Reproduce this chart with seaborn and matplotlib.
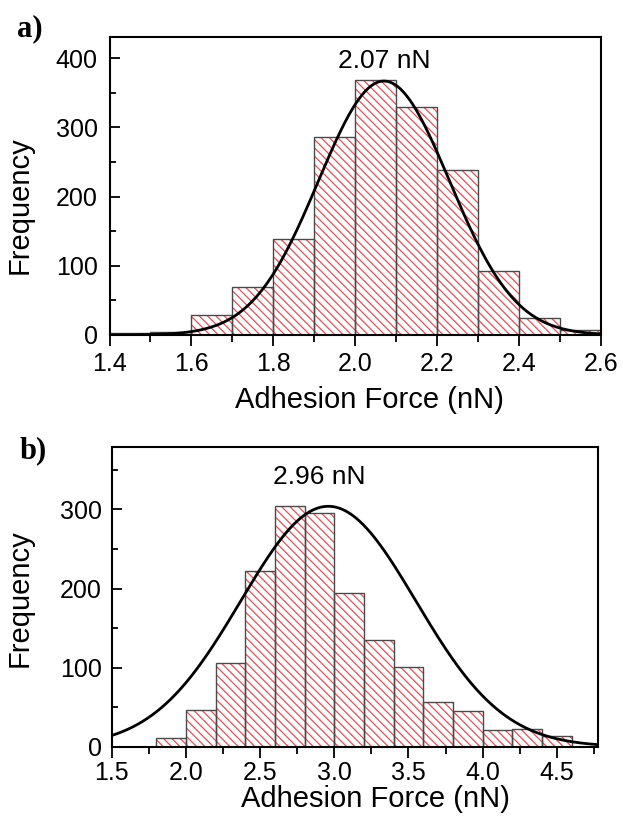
import numpy as np
import pandas as pd
import matplotlib
matplotlib.use("Agg")
import matplotlib.pyplot as plt
from matplotlib.ticker import MultipleLocator
import seaborn as sns

# Histogram bin edges (nN) and counts per bin
edges_a = [1.4, 1.5, 1.6, 1.7, 1.8, 1.9, 2.0, 2.1, 2.2, 2.3, 2.4, 2.5, 2.6]
counts_a = [3, 5, 29, 70, 138, 286, 368, 330, 239, 93, 25, 7]

edges_b = [1.8, 2.0, 2.2, 2.4, 2.6, 2.8, 3.0, 3.2, 3.4, 3.6, 3.8, 4.0, 4.2, 4.4, 4.6]
counts_b = [11, 46, 106, 222, 304, 295, 195, 135, 101, 56, 45, 21, 23, 13]

# Gaussian fit parameters: centre (nN), width (nN), height (counts)
peak_a, sigma_a, height_a = 2.07, 0.16, 367
peak_b, sigma_b, height_b = 2.96, 0.59, 304

HATCH_RED = "#e0525a"
EDGE_GREY = "#4a4a4a"

sns.set_style("ticks")
plt.rcParams["font.family"] = ["Liberation Sans", "DejaVu Sans"]
plt.rcParams["hatch.linewidth"] = 0.9
plt.rcParams["axes.linewidth"] = 1.5
for key in ("text.color", "axes.labelcolor", "xtick.color", "ytick.color",
            "axes.edgecolor"):
    plt.rcParams[key] = "black"


def draw_panel(ax, edges, counts, peak, sigma, height, xlim, ylim,
               xmajor, xminor, label_xy, xpad, ypad):
    edge_arr = np.asarray(edges, dtype=float)
    centres = (edge_arr[:-1] + edge_arr[1:]) / 2
    df = pd.DataFrame({"force": centres, "n": counts})
    bin_list = [float(e) for e in edges]

    # hatched fill
    before = len(ax.patches)
    sns.histplot(data=df, x="force", weights="n", bins=bin_list, ax=ax,
                 stat="count", element="bars", fill=True)
    for p in ax.patches[before:]:
        p.set_facecolor("white")
        p.set_edgecolor(HATCH_RED)
        p.set_linewidth(0)
        p.set_hatch("\\\\\\\\")

    # bar outlines
    before = len(ax.patches)
    sns.histplot(data=df, x="force", weights="n", bins=bin_list, ax=ax,
                 stat="count", element="bars", fill=False, color=EDGE_GREY)
    for p in ax.patches[before:]:
        p.set_facecolor("none")
        p.set_edgecolor(EDGE_GREY)
        p.set_linewidth(1.0)

    # Gaussian fit curve
    xs = np.linspace(xlim[0], xlim[1], 500)
    fit = pd.DataFrame({"force": xs,
                        "fit": height * np.exp(-0.5 * ((xs - peak) / sigma) ** 2)})
    sns.lineplot(data=fit, x="force", y="fit", ax=ax, color="black", lw=2.0)

    ax.set_xlim(*xlim)
    ax.set_ylim(*ylim)
    ax.xaxis.set_major_locator(MultipleLocator(xmajor))
    ax.xaxis.set_minor_locator(MultipleLocator(xminor))
    ax.yaxis.set_major_locator(MultipleLocator(100))
    ax.yaxis.set_minor_locator(MultipleLocator(50))

    ax.tick_params(axis="x", which="major", direction="out", length=8,
                   width=1.3, labelsize=18, pad=xpad, top=False, colors="black")
    ax.tick_params(axis="x", which="minor", direction="out", length=5,
                   width=1.3, top=False, colors="black")
    ax.tick_params(axis="y", which="major", direction="in", length=7,
                   width=1.3, labelsize=18, pad=ypad, right=False, colors="black")
    ax.tick_params(axis="y", which="minor", direction="in", length=4,
                   width=1.3, right=False, colors="black")
    for s in ax.spines.values():
        s.set_visible(True)
        s.set_linewidth(1.5)
        s.set_color("black")

    ax.text(label_xy[0], label_xy[1], f"{peak:.2f} nN", ha="center",
            va="center", fontsize=19, color="black")
    ax.set_xlabel("Adhesion Force (nN)", fontsize=21, color="black")
    ax.set_ylabel("Frequency", fontsize=21, color="black")


fig = plt.figure(figsize=(6.23, 8.17), dpi=100)
ax_a = fig.add_axes([0.1758, 0.590, 0.789, 0.365])
ax_b = fig.add_axes([0.1793, 0.086, 0.7811, 0.3669])

draw_panel(ax_a, edges_a, counts_a, peak_a, sigma_a, height_a,
           (1.4, 2.6), (0, 431), 0.2, 0.1, (2.07, 396), 4.5, 8.5)
draw_panel(ax_b, edges_b, counts_b, peak_b, sigma_b, height_b,
           (1.5, 4.78), (0, 379), 0.5, 0.25, (2.9, 341), 2.5, 7)

ax_a.xaxis.set_label_coords(0.528, -0.171)
ax_a.yaxis.set_label_coords(-0.154, 0.436)
ax_b.xaxis.set_label_coords(0.5415, -0.128)
ax_b.yaxis.set_label_coords(-0.16, 0.496)

fig.text(30 / 623, 1 - 29 / 817, "a)", family="Liberation Serif",
         weight="bold", fontsize=22, ha="center", va="center", color="black")
fig.text(33 / 623, 1 - 451 / 817, "b)", family="Liberation Serif",
         weight="bold", fontsize=22, ha="center", va="center", color="black")

fig.savefig("out.png", dpi=100, facecolor="white")
